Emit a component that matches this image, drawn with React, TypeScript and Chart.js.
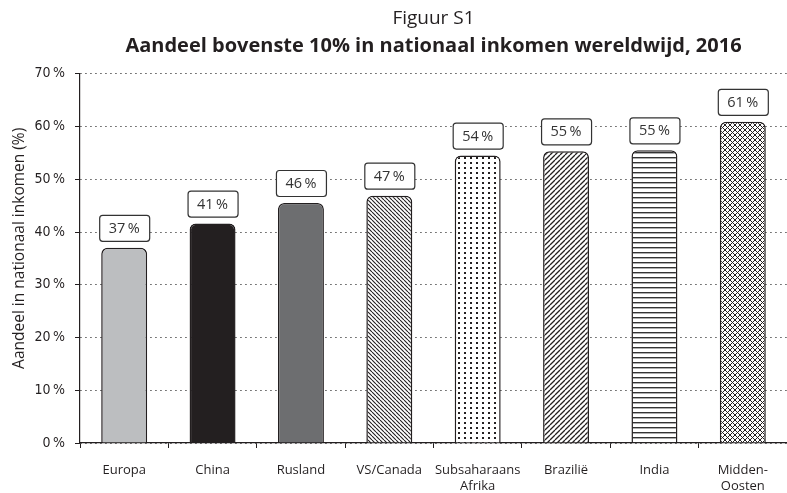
import React, { useEffect, useRef } from "react";
import { Chart, registerables } from "chart.js";

Chart.register(...registerables);

const categories: (string | string[])[] = [
  "Europa",
  "China",
  "Rusland",
  "VS/Canada",
  ["Subsaharaans", "Afrika"],
  "Brazilië",
  "India",
  ["Midden-", "Oosten"],
];
const shareValues = [37.0, 41.6, 45.5, 46.9, 54.5, 55.3, 55.5, 60.9];
const shareLabels = [37, 41, 46, 47, 54, 55, 55, 61];
const yTicks = [0, 10, 20, 30, 40, 50, 60, 70];
const fills = ["#bcbec0", "#231f20", "#6d6e70", "back", "dots", "fwd", "hlines", "cross"];

const TXT = "#231f20";
const SANS = "'Open Sans', 'Noto Sans', sans-serif";
const NARROW = "'Liberation Sans Narrow', 'DejaVu Sans Condensed', 'Open Sans', sans-serif";

function makeFill(kind: string, ctx0: CanvasRenderingContext2D): string | CanvasPattern {
  if (kind.startsWith("#")) return kind;
  const c = document.createElement("canvas");
  const ink = "#231f20";
  let s = 5;
  if (kind === "back") s = 4;
  if (kind === "dots") s = 6;
  c.width = s;
  c.height = kind === "dots" ? 5 : s;
  const g = c.getContext("2d")!;
  g.fillStyle = "#ffffff";
  g.fillRect(0, 0, c.width, c.height);
  g.strokeStyle = ink;
  g.fillStyle = ink;
  if (kind === "back") {
    g.lineWidth = 1.1;
    g.beginPath();
    for (const k of [-s, 0, s]) {
      g.moveTo(k, 0);
      g.lineTo(k + s, s);
    }
    g.stroke();
  } else if (kind === "fwd") {
    g.lineWidth = 1.3;
    g.beginPath();
    for (const k of [-s, 0, s]) {
      g.moveTo(k, s);
      g.lineTo(k + s, 0);
    }
    g.stroke();
  } else if (kind === "cross") {
    g.lineWidth = 1;
    g.beginPath();
    for (const k of [-s, 0, s]) {
      g.moveTo(k, s);
      g.lineTo(k + s, 0);
      g.moveTo(k, 0);
      g.lineTo(k + s, s);
    }
    g.stroke();
  } else if (kind === "dots") {
    g.fillRect(2, 2, 2, 2);
  } else if (kind === "hlines") {
    g.fillStyle = "#333333";
    g.fillRect(0, 2, s, 1.4);
  }
  return ctx0.createPattern(c, "repeat")!;
}

const labelBoxPlugin = {
  id: "labelBoxes",
  afterDatasetsDraw(chart: any) {
    const ctx = chart.ctx as CanvasRenderingContext2D;
    const meta = chart.getDatasetMeta(0);
    meta.data.forEach((bar: any, i: number) => {
      const w = 50;
      const h = 26;
      const bx = bar.x - w / 2;
      const by = bar.y - 7 - h;
      ctx.save();
      ctx.beginPath();
      (ctx as any).roundRect(bx + 0.5, by + 0.5, w, h, 3);
      ctx.fillStyle = "#ffffff";
      ctx.fill();
      ctx.lineWidth = 1.2;
      ctx.strokeStyle = "#333333";
      ctx.stroke();
      ctx.fillStyle = "#333333";
      ctx.font = `14.5px ${SANS}`;
      ctx.textAlign = "center";
      ctx.textBaseline = "middle";
      ctx.fillText(`${shareLabels[i]}\u2009%`, bar.x, by + h / 2 + 1);
      ctx.restore();
    });
  },
};

export default function App() {
  const ref = useRef<HTMLCanvasElement | null>(null);
  useEffect(() => {
    document.body.style.margin = "0";
    const canvas = ref.current!;
    const ctx = canvas.getContext("2d")!;
    const bg = fills.map((f) => makeFill(f, ctx));
    const chart = new Chart(canvas, {
      type: "bar",
      data: {
        labels: categories,
        datasets: [
          {
            data: shareValues,
            backgroundColor: bg as any,
            borderColor: "#231f20",
            borderWidth: 1.5,
            borderSkipped: "bottom",
            borderRadius: { topLeft: 6, topRight: 6, bottomLeft: 0, bottomRight: 0 },
            barPercentage: 0.52,
            categoryPercentage: 1,
          },
        ],
      },
      options: {
        animation: false,
        responsive: false,
        layout: { padding: { left: 0, right: 0, top: 0, bottom: 0 } },
        plugins: {
          legend: { display: false },
          tooltip: { enabled: false },
          title: {
            display: true,
            text: "Figuur S1",
            fullSize: false,
            color: TXT,
            font: { family: SANS, size: 19, weight: "normal", lineHeight: 1.2 },
            padding: { top: 7, bottom: 0 },
          },
          subtitle: {
            display: true,
            text: "Aandeel bovenste 10% in nationaal inkomen wereldwijd, 2016",
            fullSize: false,
            color: TXT,
            font: { family: SANS, size: 20, weight: "bold", lineHeight: 1.2 },
            padding: { top: 4, bottom: 16 },
          },
        },
        scales: {
          x: {
            grid: {
              display: true,
              offset: true,
              drawOnChartArea: false,
              drawTicks: true,
              tickLength: 5,
              color: "#231f20",
              lineWidth: 1,
            },
            border: { display: true, color: "#231f20", width: 1.2 },
            ticks: {
              color: TXT,
              padding: 14,
              maxRotation: 0,
              autoSkip: false,
              font: { family: SANS, size: 13, lineHeight: 1.25 },
            },
            afterFit(scale: any) {
              scale.height = 50;
            },
          },
          y: {
            min: 0,
            max: 70,
            afterBuildTicks(scale: any) {
              scale.ticks = yTicks.map((v) => ({ value: v }));
            },
            grid: {
              display: true,
              drawOnChartArea: true,
              drawTicks: true,
              tickLength: 5,
              color: "#555555",
              lineWidth: 1,
              tickColor: "#231f20",
              tickBorderDash: [],
            },
            border: { display: true, color: "#231f20", width: 1.2, dash: [1.5, 3.5] },
            ticks: {
              color: TXT,
              padding: 10,
              font: { family: NARROW, size: 14 },
              callback: (v: any) => `${v}\u2009%`,
            },
            title: {
              display: true,
              text: "     Aandeel in nationaal inkomen (%)",
              color: TXT,
              font: { family: SANS, size: 15.5, weight: "normal" },
              padding: { top: 10, bottom: 0 },
            },
            afterFit(scale: any) {
              scale.width = 80;
            },
          },
        },
      },
      plugins: [labelBoxPlugin],
    });
    return () => chart.destroy();
  }, []);
  return (
    <div style={{ width: 787, height: 493 }}>
      <canvas ref={ref} width={787} height={493} style={{ display: "block" }} />
    </div>
  );
}
